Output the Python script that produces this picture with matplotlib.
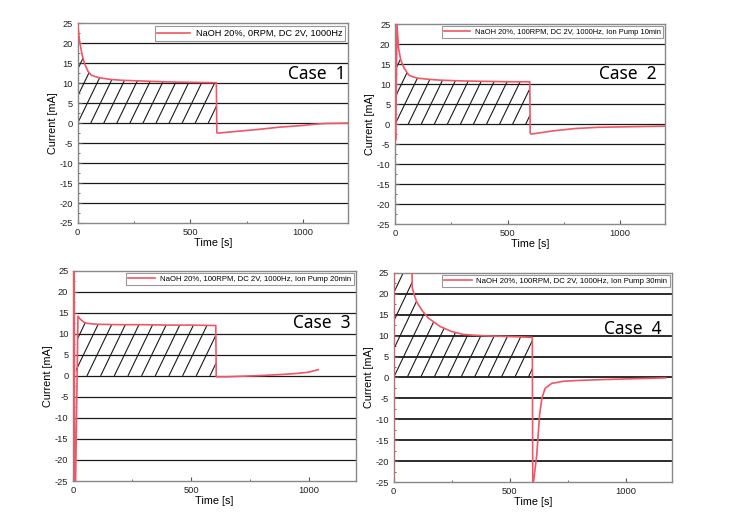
import numpy as np
import matplotlib.pyplot as plt
from matplotlib.patches import Polygon
from matplotlib.collections import LineCollection
from matplotlib.ticker import MultipleLocator

plt.rcParams['font.family'] = ['Liberation Sans', 'DejaVu Sans']
plt.rcParams['axes.unicode_minus'] = False

# Case 1 : NaOH 20%, 0RPM
t1 = [0, 2, 5, 10, 20, 30, 45, 60, 80, 100, 150, 200, 300, 400, 500, 616, 618, 625, 700, 800, 900, 1000, 1050, 1100, 1200]
i1 = [25, 24, 22, 20, 17, 15, 13, 12, 11.6, 11.3, 10.9, 10.7, 10.5, 10.3, 10.2, 10.1, -2.4, -2.5, -2.1, -1.6, -1.0, -0.6, -0.3, -0.1, 0.0]
# Case 2 : ion pump 10 min
t2 = [0, 2, 5, 8, 15, 25, 40, 60, 80, 100, 150, 200, 300, 400, 500, 598, 600, 605, 700, 800, 900, 1000, 1100, 1200]
i2 = [0, -4, 8, 25, 19, 16, 14, 12.3, 11.8, 11.5, 11.2, 11.0, 10.8, 10.7, 10.6, 10.6, -2.3, -2.5, -1.7, -1.1, -0.8, -0.7, -0.6, -0.5]
# Case 3 : ion pump 20 min
t3 = [0, 2, 4, 6, 10, 20, 30, 45, 60, 100, 200, 300, 400, 500, 605, 607, 650, 700, 800, 900, 950, 1000, 1020, 1040]
i3 = [0, 25, 25, -25, -25, 14.2, 13.5, 12.8, 12.5, 12.3, 12.2, 12.2, 12.1, 12.1, 12.0, -0.2, -0.2, -0.1, 0.1, 0.4, 0.6, 0.9, 1.2, 1.5]
# Case 4 : ion pump 30 min
t4 = [0, 0.5, 1.5, 76, 80, 90, 100, 125, 150, 200, 250, 300, 350, 400, 500, 598, 600, 603, 617, 629, 639, 653, 682, 733, 800, 900, 1000, 1100, 1173]
i4 = [-30, 0, 45, 40, 21.5, 19.5, 18, 15.8, 14.2, 12.2, 11.0, 10.3, 10.1, 9.95, 9.8, 9.6, -30, -25, -18.6, -9, -5, -2.6, -1.4, -0.9, -0.7, -0.5, -0.35, -0.2, -0.1]

times = [t1, t2, t3, t4]
currents = [i1, i2, i3, i4]
hatch_end = [616, 598, 605, 598]
labels = ['NaOH 20%, 0RPM, DC 2V, 1000Hz',
          'NaOH 20%, 100RPM, DC 2V, 1000Hz, Ion Pump 10min',
          'NaOH 20%, 100RPM, DC 2V, 1000Hz, Ion Pump 20min',
          'NaOH 20%, 100RPM, DC 2V, 1000Hz, Ion Pump 30min']
cases = ['Case  1', 'Case  2', 'Case  3', 'Case  4']

positions = [[0.105, 0.567, 0.365, 0.388],
             [0.534, 0.565, 0.365, 0.388],
             [0.099, 0.066, 0.382, 0.408],
             [0.532, 0.064, 0.376, 0.406]]
case_pos = [(0.885, 0.745), (0.86, 0.75), (0.88, 0.75), (0.86, 0.73)]
grid_lw = [0.9, 0.9, 0.9, 1.3]
leg_fs = [6.7, 5.4, 5.6, 5.6]

fig = plt.figure(figsize=(7.4, 5.15), dpi=100)
red = '#f25565'

for k in range(4):
    ax = fig.add_axes(positions[k])
    t = np.array(times[k], dtype=float)
    y = np.array(currents[k], dtype=float)

    for g in range(-20, 25, 5):
        ax.axhline(g, color='#1a1a1a', lw=grid_lw[k], zorder=1)

    # hatched area under the curve up to the drop
    m = t <= hatch_end[k]
    tt = t[m]
    yy = np.clip(y[m], 0, 25)
    verts = [(tt[0], 0)] + list(zip(tt, yy)) + [(tt[-1], 0)]
    poly = Polygon(verts, closed=True, facecolor='none', edgecolor='none', transform=ax.transData)
    ax.add_patch(poly)
    segs = [[(x0, 0), (x0 + 8.6 * 30, 30)] for x0 in np.arange(-290, 700, 58)]
    lc = LineCollection(segs, colors='#1a1a1a', linewidths=0.8, zorder=2)
    ax.add_collection(lc)
    lc.set_clip_path(poly)

    ax.plot(t, y, color=red, lw=1.2, label=labels[k], zorder=3)

    ax.set_xlim(0, 1200)
    ax.set_ylim(-25, 25)
    ax.set_xticks([0, 500, 1000])
    ax.set_yticks(range(-25, 26, 5))
    ax.xaxis.set_minor_locator(MultipleLocator(250))
    ax.yaxis.set_minor_locator(MultipleLocator(2.5))
    ax.tick_params(direction='in', labelsize=6.7, colors='#555555', labelcolor='#222222', length=3)
    ax.tick_params(which='minor', direction='in', length=1.5, colors='#555555')
    for s in ax.spines.values():
        s.set_color('#888888')
        s.set_linewidth(1.0)
    ax.set_xlabel('Time [s]', fontsize=7.8, labelpad=1)
    ax.set_ylabel('Current [mA]', fontsize=7.8, labelpad=1)

    leg = ax.legend(loc='upper right', fontsize=leg_fs[k], fancybox=False, framealpha=1,
                    edgecolor='#999999', borderaxespad=0.3, handlelength=3.5,
                    borderpad=0.3, handletextpad=0.6)
    leg.get_frame().set_linewidth(0.8)
    ax.text(case_pos[k][0], case_pos[k][1], cases[k], transform=ax.transAxes,
            fontsize=12.5, fontweight='medium', ha='center', va='center', color='black',
            zorder=5, family=['Noto Sans', 'DejaVu Sans'])

fig.savefig('out.png', dpi=100)
